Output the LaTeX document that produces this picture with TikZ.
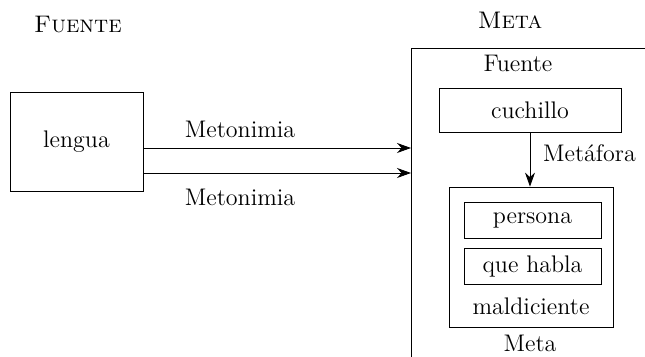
\documentclass[tikz,border=0pt]{standalone}
\usepackage{tikz}
\usetikzlibrary{arrows.meta}
\tikzset{
  caja/.style={draw, inner sep=0pt},
  flecha/.style={-{Stealth[length=7pt,width=5pt]}},
}
\begin{document}
\begin{tikzpicture}[x=0.5pt, y=-0.5pt, every node/.style={font=\large}]
  \useasboundingbox (0,0) rectangle (645,357);
  \node (fuente) at (78,25) {\textsc{Fuente}};
  \node (meta) at (510,20) {\textsc{Meta}};
  \node[caja, minimum width=66.5pt, minimum height=49.5pt] (lengua) at (76.5,141.5) {lengua};
  % marco de la meta
  \coordinate (borde) at (411,48);
  \draw (borde |- 0,357) -- (borde) -- (645,48);
  \draw[flecha] (lengua.east |- 0,148) -- (borde |- 0,148);
  \draw[flecha] (lengua.east |- 0,173) -- (borde |- 0,173);
  \node (meto1) at (240,129) {Metonimia};
  \node (meto2) at (240,197) {Metonimia};
  \node (fuenteint) at (518,63) {Fuente};
  \node[caja, minimum width=91pt, minimum height=22pt] (cuchillo) at (530,110) {cuchillo};
  \node[caja, minimum width=82pt, minimum height=70pt] (metaint) at (531,257) {};
  \node[caja, minimum width=68.5pt, minimum height=18pt] (persona) at (532.5,220) {persona};
  \node[caja, minimum width=68.5pt, minimum height=18pt] (habla) at (532.5,266.5) {que habla};
  \node (maldic) at (531,306) {maldiciente};
  \node (metaabajo) at (530,343) {Meta};
  \draw[flecha] (cuchillo.south) -- (cuchillo.south |- metaint.north)
    node[midway, right, xshift=3pt, yshift=3pt] {Metáfora};
\end{tikzpicture}
\end{document}
